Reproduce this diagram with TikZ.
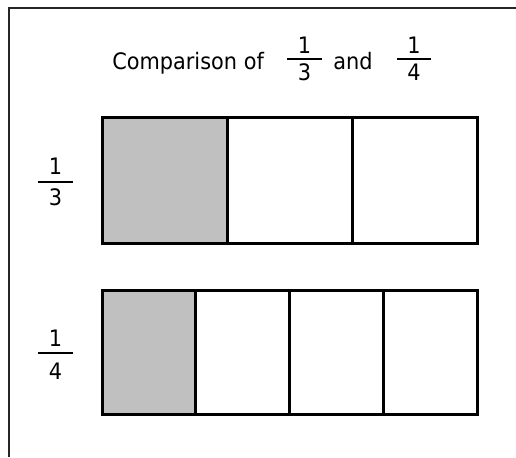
\documentclass[tikz,border=0pt]{standalone}
\usepackage{fontspec}
\setmainfont{DejaVu Sans}[FakeStretch=0.92]
\begin{document}
\begin{tikzpicture}[x=0.75pt,y=-0.75pt,
  frame/.style={draw=black!85,line width=1.1pt},
  cellbox/.style={draw=black,line width=2.25pt},
  shaded/.style={fill=shadegray},
  txt/.style={font=\fontsize{17pt}{20pt}\selectfont,inner sep=0pt,anchor=base},
  fracbar/.style={draw=black,line width=2.2pt}]
\definecolor{shadegray}{HTML}{C0C0C0}
\useasboundingbox (0,0) rectangle (516,457);
% cropped outer frame
\draw[frame] (9,457) -- (9,8) -- (516,8);
% title
\node[txt,anchor=base west] (ttl) at (112,69) {Comparison of};
\draw[fracbar] (287,59) -- (322,59);
\node[txt] (tn1) at (304.5,53) {1};
\node[txt] (td1) at (304.5,80) {3};
\node[txt,anchor=base west] (tand) at (333,69) {and};
\draw[fracbar] (397,59) -- (431,59);
\node[txt] (tn2) at (414,53) {1};
\node[txt] (td2) at (414,80) {4};
% left labels
\draw[fracbar] (38,182) -- (73,182);
\node[txt] (ln1) at (55.5,174) {1};
\node[txt] (ld1) at (55.5,205) {3};
\draw[fracbar] (38,353) -- (73,353);
\node[txt] (ln2) at (55.5,346) {1};
\node[txt] (ld2) at (55.5,379) {4};
% thirds bar
\fill[shaded] (102,117) rectangle (227,243);
\draw[cellbox] (102,117) rectangle (477,243);
\draw[cellbox] (227,117) -- (227,243);
\draw[cellbox] (352,117) -- (352,243);
% quarters bar
\fill[shaded] (102,290) rectangle (195.75,414);
\draw[cellbox] (102,290) rectangle (477,414);
\draw[cellbox] (195.75,290) -- (195.75,414);
\draw[cellbox] (289.5,290) -- (289.5,414);
\draw[cellbox] (383.25,290) -- (383.25,414);
\end{tikzpicture}
\end{document}
